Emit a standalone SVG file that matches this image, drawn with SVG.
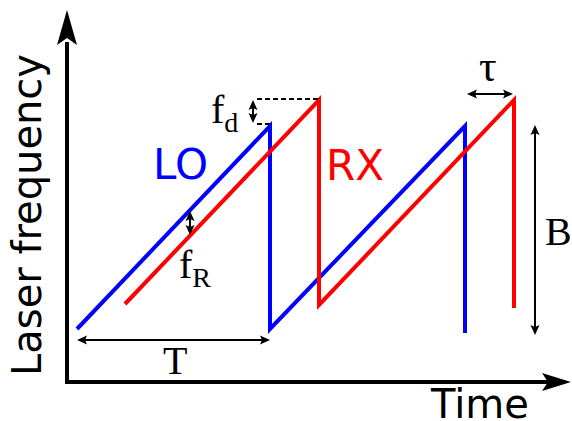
<svg xmlns="http://www.w3.org/2000/svg" width="572" height="421" viewBox="0 0 572 421">
<style>
.sans{font-family:"DejaVu Sans",sans-serif}
.serif{font-family:"Liberation Serif","Times New Roman",serif;fill:#000}
.ramp{fill:none;stroke-width:4;stroke-linejoin:miter;stroke-miterlimit:10}
.dim{fill:none;stroke:#000;stroke-width:2;marker-start:url(#ah);marker-end:url(#ah)}
.dash{fill:none;stroke:#000;stroke-width:2.2;stroke-dasharray:5,3}
</style>
<defs>
<marker id="ah" markerUnits="userSpaceOnUse" viewBox="-10 -6 14 12" refX="0" refY="0" markerWidth="14" markerHeight="12" orient="auto-start-reverse" overflow="visible">
<path d="M2,0 L-8,-4.5 L-6,0 L-8,4.5 Z" fill="#000"/>
</marker>
</defs>
<g id="axes">
<polyline points="67,42 67,382 548,382" fill="none" stroke="#000" stroke-width="4" stroke-linejoin="miter"/>
<path d="M67,10 L77,45 L67,38 L57,45 Z" fill="#000"/>
<path d="M571,382 L542,373 L548,382 L542,391 Z" fill="#000"/>
<text class="sans" font-size="40" transform="translate(41,376) rotate(-90)">Laser frequency</text>
<text class="sans" font-size="40" x="431" y="418">Time</text>
</g>
<g id="LO">
<polyline class="ramp" stroke="#0000ff" points="77,329 270,126 270,329 465,126 465,333"/>
<text class="sans" font-size="42" fill="#0000ff" x="153" y="179">LO</text>
</g>
<g id="RX">
<polyline class="ramp" stroke="#ff0000" points="125,304 319,100 319,305 514,100 514,308"/>
<text class="sans" font-size="42" fill="#ff0000" x="326" y="180">RX</text>
</g>
<g id="connectors">
<line class="dash" x1="257" y1="99" x2="319" y2="99"/>
<line class="dash" x1="257" y1="124" x2="270" y2="124"/>
<line class="dim" x1="253" y1="102" x2="253" y2="121"/>
<line class="dim" x1="190" y1="213" x2="190" y2="233"/>
<line class="dim" x1="79" y1="340" x2="268" y2="340"/>
<line class="dim" x1="535" y1="127" x2="535" y2="333"/>
<line class="dim" x1="469" y1="94" x2="511" y2="94"/>
</g>
<g id="labels">
<text class="serif" font-size="40" x="211" y="123">f<tspan font-size="28" dy="9">d</tspan></text>
<text class="serif" font-size="40" x="179" y="278">f<tspan font-size="28" dy="9">R</tspan></text>
<text class="serif" font-size="40" x="163" y="374">T</text>
<text class="serif" font-size="40" x="545" y="245">B</text>
<text class="serif" font-size="44" x="479" y="81">τ</text>
</g>
</svg>
